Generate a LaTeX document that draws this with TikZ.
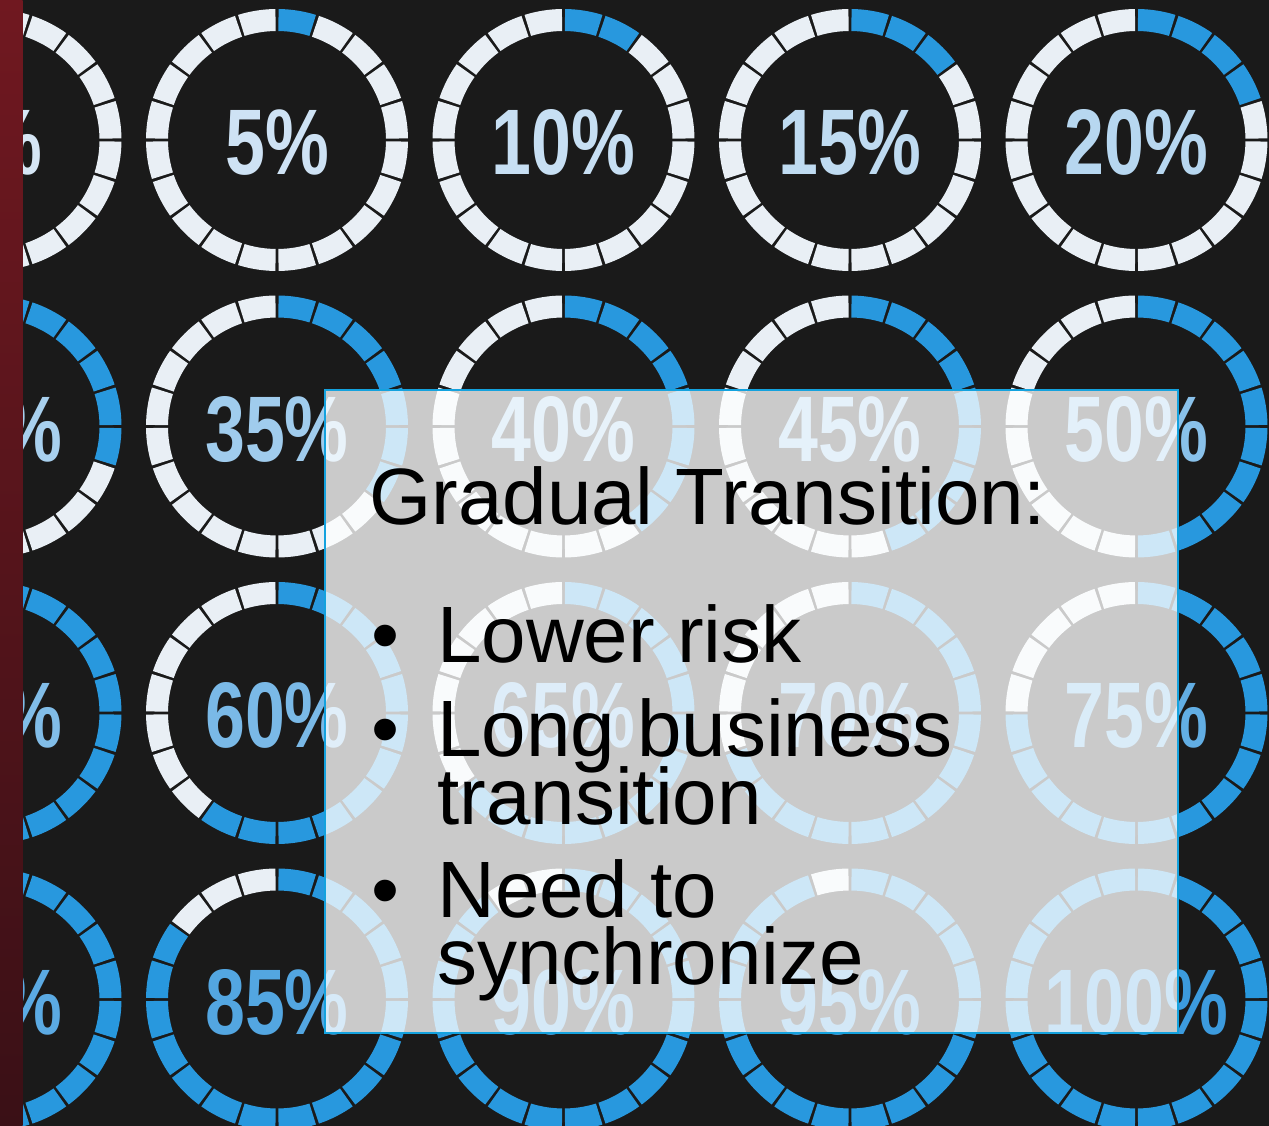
\documentclass[tikz,border=0pt]{standalone}
\usepackage{fontspec}
\setmainfont{Liberation Sans}
\usepackage{graphicx}
\usepackage{tikz}
\definecolor{bgdark}{RGB}{26,26,26}
\definecolor{ringwhite}{RGB}{233,239,245}
\definecolor{ringblue}{RGB}{40,152,222}
\definecolor{labelwhite}{RGB}{214,230,245}
\definecolor{labelblue}{RGB}{60,155,222}
\definecolor{stripred}{RGB}{112,24,32}
\definecolor{stripdark}{RGB}{58,16,22}
\definecolor{panelline}{RGB}{20,162,222}
\tikzset{gaugelabel/.style={anchor=base,inner sep=0pt,font=\fontsize{53}{53}\selectfont\bfseries}}
\tikzset{bodytext/.style={anchor=base west,inner sep=0pt,font=\fontsize{45.5}{45.5}\selectfont}}

\begin{document}
\begin{tikzpicture}[x=0.02cm,y=0.02cm]
            \useasboundingbox (0,0) rectangle (1269,1126);
            \clip (0,0) rectangle (1269,1126);
            \fill[bgdark] (0,0) rectangle (1269,1126);

            \foreach \pct [count=\k from 0] in {0,5,10,15,20,30,35,40,45,50,55,60,65,70,75,80,85,90,95,100}{
                \pgfmathsetmacro\cx{-9.5+286.5*mod(\k,5)}
                \pgfmathsetmacro\cy{986-286.5*div(\k,5)}
                \pgfmathtruncatemacro\nblue{\pct/5}
                \foreach \s in {1,...,20}{
                    \pgfmathsetmacro\a{90-(\s-1)*18-0.7}
                    \pgfmathsetmacro\b{90-\s*18+0.7}
                    \ifnum\s>\nblue \def\segcol{ringwhite}\else\def\segcol{ringblue}\fi
                    \fill[\segcol] (\cx,\cy) ++(\a:131) arc[start angle=\a,end angle=\b,radius=131]
                        -- ++(\b:-22) arc[start angle=\b,end angle=\a,radius=109] -- cycle;
                }
                \node (g\k) [gaugelabel,text=labelblue!\pct!labelwhite] at (\cx,\cy-35) {\scalebox{0.77}[1]{\pct\%}};
            }

            \shade[top color=stripred,bottom color=stripdark] (0,0) rectangle (22.5,1126);

            \fill[white,fill opacity=0.77] (325,93) rectangle (1178,736);
            \draw[panelline,line width=1.2pt] (325,93) rectangle (1178,736);

            \node (title) [bodytext] at (369,601) {Gradual Transition:};
            \node (b1) [bodytext] at (371,463) {•};
            \node (l1) [bodytext] at (437,463) {Lower risk};
            \node (b2) [bodytext] at (371,369) {•};
            \node (l2a) [bodytext] at (437,369) {Long business};
            \node (l2b) [bodytext] at (437,301) {transition};
            \node (b3) [bodytext] at (371,208) {•};
            \node (l3a) [bodytext] at (437,208) {Need to};
            \node (l3b) [bodytext] at (437,141) {synchronize};
        \end{tikzpicture}
\end{document}
